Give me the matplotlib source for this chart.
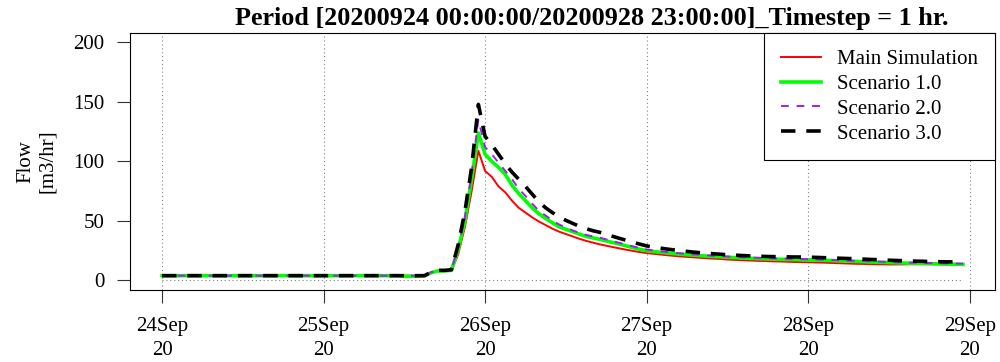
import matplotlib
matplotlib.use("Agg")
import matplotlib.pyplot as plt

plt.rcParams["font.family"] = ["Liberation Serif", "DejaVu Serif"]

# hourly flow values, 24 Sep 00:00 -> 28 Sep 23:00
hours = list(range(120))

pre_event = [4.0, 4.0, 4.0, 4.0, 4.0, 4.0, 4.0, 4.0, 4.0, 4.0, 4.0, 4.0,
             4.0, 4.0, 4.0, 4.0, 4.0, 4.0, 4.0, 4.0, 4.0, 4.0, 4.0, 4.0,
             4.0, 4.0, 4.0, 4.0, 4.0, 4.0, 4.0, 4.0, 4.0, 4.0, 4.0, 4.0]

main_sim = pre_event + [
    4.0, 4.0, 4.0, 4.0, 6.5, 8.0, 8.0, 8.5, 22, 45, 75, 109,
    92, 87, 79, 74, 67, 61, 57, 53, 49.5, 46.5, 43.5, 41,
    39, 37, 35, 33.3, 31.8, 30.4, 29.2, 28, 26.9, 25.8, 24.8, 23.8,
    23, 22.4, 21.8, 21.2, 20.7, 20.2, 19.8, 19.4, 19, 18.6, 18.3, 18,
    17.6, 17.3, 17, 16.8, 16.6, 16.4, 16.2, 16, 15.9, 15.7, 15.5, 15.4,
    15.3, 15.1, 15, 14.8, 14.6, 14.4, 14.2, 14, 13.9, 13.7, 13.6, 13.5,
    13.4, 13.4, 13.5, 13.6, 13.6, 13.7, 13.7, 13.6, 13.6, 13.5, 13.4, 13.3]

scenario_1 = pre_event + [
    3.5, 3.5, 3.5, 4.0, 6.5, 8.0, 8.0, 8.5, 26, 50, 85, 124,
    106, 100, 95, 89, 80, 73, 67, 61, 56, 52, 48.5, 45,
    43, 41, 39, 37, 35.8, 34.6, 33.2, 31.8, 30.5, 29, 27.6, 26.2,
    25, 24.3, 23.7, 23.1, 22.6, 22.1, 21.6, 21.2, 20.8, 20.4, 20.1, 19.8,
    19.5, 19.2, 18.9, 18.7, 18.5, 18.3, 18.1, 17.9, 17.8, 17.6, 17.5, 17.4,
    17.3, 17.1, 17, 16.8, 16.6, 16.4, 16.2, 16, 15.8, 15.6, 15.4, 15.2,
    15, 14.8, 14.7, 14.5, 14.4, 14.2, 14.1, 14, 13.8, 13.7, 13.6, 13.5]

scenario_2 = pre_event + [
    4.0, 4.0, 4.0, 4.0, 7.0, 8.5, 8.5, 9.0, 28, 53, 90, 135,
    112, 106, 99, 92, 85, 77, 71, 64.5, 58.5, 54.5, 50.5, 47,
    44.5, 42, 40, 38.3, 37, 36, 34.5, 33, 31.5, 30, 28.6, 27.2,
    26, 25.2, 24.5, 23.9, 23.3, 22.8, 22.3, 21.9, 21.5, 21.1, 20.7, 20.4,
    20.1, 19.8, 19.5, 19.3, 19.1, 18.9, 18.7, 18.5, 18.4, 18.2, 18.1, 18,
    17.9, 17.7, 17.5, 17.3, 17.1, 16.9, 16.7, 16.5, 16.3, 16.1, 15.9, 15.7,
    15.5, 15.3, 15.2, 15, 14.9, 14.7, 14.6, 14.5, 14.4, 14.3, 14.2, 14.1]

scenario_3 = pre_event + [
    4.0, 4.0, 4.0, 4.0, 7.0, 8.5, 8.5, 9.0, 30, 58, 95, 148,
    121, 114, 106, 98, 91, 85, 79, 72.5, 66, 61, 57, 53.5,
    50.5, 48, 45.5, 43.5, 41.8, 40.5, 38.8, 37, 35.3, 33.7, 32, 30.5,
    29, 28, 27.2, 26.4, 25.7, 25, 24.4, 23.8, 23.3, 22.8, 22.4, 22,
    21.6, 21.3, 21, 20.7, 20.5, 20.3, 20.1, 20, 19.9, 19.8, 19.7, 19.7,
    19.6, 19.4, 19.2, 19, 18.8, 18.6, 18.4, 18.2, 18, 17.7, 17.5, 17.2,
    17, 16.8, 16.6, 16.4, 16.2, 16.1, 15.9, 15.8, 15.7, 15.6, 15.5, 15.4]

day_ticks = [0, 24, 48, 72, 96, 120]
day_labels = ["24Sep\n20", "25Sep\n20", "26Sep\n20", "27Sep\n20", "28Sep\n20", "29Sep\n20"]
y_ticks = [0, 50, 100, 150, 200]

fig = plt.figure(figsize=(10, 3.62), dpi=100)
ax = fig.add_axes([0.13, 0.199, 0.865, 0.71])

span = hours[-1] - hours[0]
ax.set_xlim(hours[0] - 0.04 * span, hours[-1] + 0.04 * span)
ax.set_ylim(-8, 208)

for d in day_ticks:
    ax.axvline(d, color="#808080", lw=0.8, ls=(0, (1, 2.5)), zorder=1)
ax.hlines(0, hours[0], hours[-1], color="#808080", lw=0.8, ls=(0, (1, 2.5)), zorder=1)

ax.plot(hours, main_sim, color="#FF0000", lw=1.4, label="Main Simulation", zorder=3)
ax.plot(hours, scenario_1, color="#00FF00", lw=2.6, label="Scenario 1.0", zorder=3)
ax.plot(hours, scenario_2, color="#A020F0", lw=1.4, ls=(0, (4, 4)), label="Scenario 2.0", zorder=3)
ax.plot(hours, scenario_3, color="black", lw=2.6, ls=(0, (4, 3)), label="Scenario 3.0", zorder=4)

ax.set_xticks(day_ticks)
ax.set_xticklabels(day_labels, linespacing=1.35)
ax.set_yticks(y_ticks)
ax.tick_params(axis="both", labelsize=15, length=9.5, width=0.8, color="#333333")
ax.tick_params(axis="x", pad=10)
ax.tick_params(axis="y", pad=9)
for s in ax.spines.values():
    s.set_linewidth(0.8)

fig.text(0.037, 0.555, "Flow\n[m3/hr]", rotation=90, ha="center", va="center",
         fontsize=15, multialignment="center")
fig.text(0.592, 0.95, "Period [20200924 00:00:00/20200928 23:00:00]_Timestep = 1 hr.",
         ha="center", va="center", fontsize=18.8, fontweight="bold")

leg = ax.legend(loc="upper right", bbox_to_anchor=(1, 1), borderaxespad=0,
                fontsize=15, frameon=True, fancybox=False, handlelength=1.9,
                labelspacing=0.25, borderpad=0.8, handletextpad=0.8)
leg.get_frame().set_edgecolor("black")
leg.get_frame().set_linewidth(0.8)
leg.get_frame().set_alpha(1)

fig.savefig("out.png", dpi=100)
